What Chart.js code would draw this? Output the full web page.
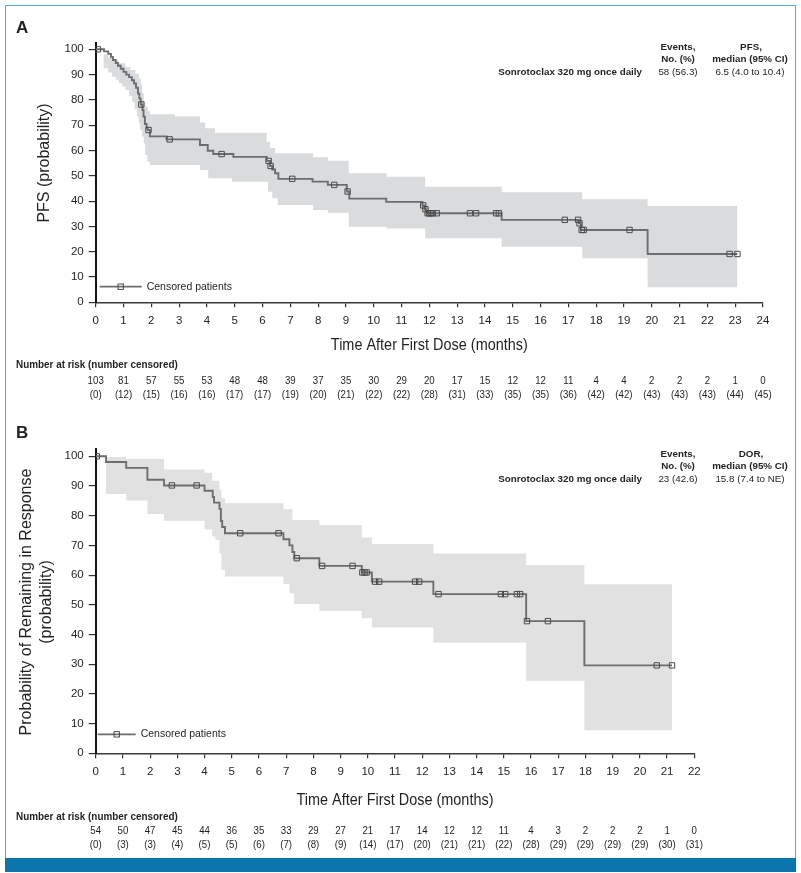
<!DOCTYPE html>
<html>
<head>
<meta charset="utf-8">
<title>Sonrotoclax PFS and DOR</title>
<script src="https://cdn.jsdelivr.net/npm/chart.js@4.4.1/dist/chart.umd.min.js"></script>
<style>
  html, body { margin: 0; padding: 0; background: #fff; }
  body { width: 801px; height: 873px; position: relative; overflow: hidden; }
  #frame { position: absolute; left: 5px; top: 5px; width: 791px; height: 867px; box-sizing: border-box; border: 1px solid #4fa9de; }
  #band { position: absolute; left: 5px; top: 858px; width: 791px; height: 14px; background: #0a76ad; }
  canvas { position: absolute; left: 0; }
  #chartA { top: 0; }
  #chartB { top: 410px; }
</style>
</head>
<body>
<div id="frame"></div>
<div id="band"></div>
<canvas id="chartA" width="801" height="410"></canvas>
<canvas id="chartB" width="801" height="450"></canvas>
<script>
// Fonts and colours (no narrow face installed, so narrow text is squeezed by hand)
const SANS = "'Liberation Sans', Arial, Helvetica, sans-serif";
const INK = '#231f20';
const CURVE = '#6b6e70';
const MARK = '#4a4a4a';

const yTicks = [0, 10, 20, 30, 40, 50, 60, 70, 80, 90, 100];

// A: PFS
const monthsA = [0, 1, 2, 3, 4, 5, 6, 7, 8, 9, 10, 11, 12, 13, 14, 15, 16, 17, 18, 19, 20, 21, 22, 23, 24];
const pfsTimes = [0, 0.3, 0.45, 0.55, 0.62, 0.72, 0.8, 0.9, 1.0, 1.1, 1.2, 1.3, 1.38, 1.45, 1.52, 1.57, 1.62, 1.68, 1.72, 1.77, 1.83, 1.87, 1.95, 2.55, 3.75, 4.03, 4.23, 4.95, 6.15, 6.27, 6.35, 6.45, 6.57, 7.8, 8.35, 9.03, 9.12, 10.45, 11.75, 11.83, 11.9, 14.6, 17.38, 17.45, 19.85, 23.08];
const pfsValues = [100, 99.2, 98.2, 97, 95.8, 94.6, 93.5, 92.3, 91.1, 90, 89, 87.8, 86.5, 84.8, 82.5, 80.5, 78.2, 76, 73.4, 70.5, 69, 68.1, 65.6, 64.4, 62.2, 59.9, 58.6, 57.5, 55.9, 53.9, 52.5, 51, 48.8, 47.7, 46.4, 43.8, 41, 39.7, 38.3, 36.8, 35.2, 32.6, 31.2, 28.6, 19.1, 19.1];
const pfsUpperTimes = [0.28, 0.45, 0.6, 0.8, 1.07, 1.25, 1.43, 1.55, 1.62, 1.67, 1.73, 1.78, 1.88, 1.96, 2.85, 3.75, 3.93, 4.29, 6.15, 6.27, 6.45, 7.82, 8.35, 9.1, 10.46, 11.85, 14.6, 17.5, 19.85, 23.08];
const pfsUpperValues = [98, 96.8, 95.8, 94.5, 93.1, 91.8, 90.3, 88.5, 86, 82.6, 79.5, 77.3, 75.5, 74.3, 73.4, 71.1, 68.8, 67, 63.5, 61, 58.9, 57.3, 56, 51, 49.6, 45.7, 43.5, 40.7, 38.1, 38.1];
const pfsLowerTimes = [0.28, 0.45, 0.59, 0.72, 0.83, 0.95, 1.07, 1.2, 1.31, 1.4, 1.49, 1.55, 1.6, 1.67, 1.73, 1.78, 1.86, 1.95, 3.75, 4.05, 4.9, 6.2, 6.35, 6.55, 7.82, 8.35, 9.1, 10.46, 11.85, 14.6, 17.5, 19.85, 23.08];
const pfsLowerValues = [92.5, 90.8, 89.2, 88, 86.6, 85.3, 83.9, 81.6, 79.3, 76.5, 73.4, 70.8, 68.1, 65.5, 62.8, 58.2, 55.5, 54.3, 52.3, 49, 47.7, 43.7, 41.1, 38.5, 36.5, 35.4, 29.9, 29.2, 25.3, 22, 17.4, 5.9, 5.9];
const pfsCensorTimes = [0.08, 1.64, 1.9, 2.66, 4.53, 6.22, 6.29, 7.07, 8.58, 9.06, 11.78, 11.86, 11.94, 12.0, 12.06, 12.12, 12.27, 13.46, 13.68, 14.4, 14.5, 16.87, 17.35, 17.4, 17.48, 17.55, 19.2, 22.8, 23.08];
const pfsCensorValues = [100, 78.2, 68.1, 64.4, 58.6, 55.9, 53.9, 48.8, 46.4, 43.8, 38.3, 36.8, 35.2, 35.2, 35.2, 35.2, 35.2, 35.2, 35.2, 35.2, 35.2, 32.6, 32.6, 31.2, 28.6, 28.6, 28.6, 19.1, 19.1];
const pfsRisk = [103, 81, 57, 55, 53, 48, 48, 39, 37, 35, 30, 29, 20, 17, 15, 12, 12, 11, 4, 4, 2, 2, 2, 1, 0];
const pfsCensored = [0, 12, 15, 16, 16, 17, 17, 19, 20, 21, 22, 22, 28, 31, 33, 35, 35, 36, 42, 42, 43, 43, 43, 44, 45];

// B: DOR
const monthsB = [0, 1, 2, 3, 4, 5, 6, 7, 8, 9, 10, 11, 12, 13, 14, 15, 16, 17, 18, 19, 20, 21, 22];
const dorTimes = [0, 0.38, 1.12, 1.9, 2.51, 4.0, 4.3, 4.35, 4.55, 4.6, 4.65, 4.75, 6.9, 7.12, 7.23, 7.3, 8.22, 9.78, 10.15, 12.41, 15.82, 17.96, 21.18];
const dorValues = [100, 98.1, 96.1, 92.1, 90.2, 88.4, 86.3, 84.4, 82.3, 78.2, 76.2, 74.1, 72.1, 70, 67.8, 65.7, 63.1, 60.9, 57.8, 53.6, 44.5, 29.6, 29.6];
const dorUpperTimes = [0.38, 1.12, 2.51, 4.0, 4.28, 4.55, 4.62, 4.75, 6.9, 7.23, 8.22, 9.78, 10.15, 12.41, 15.82, 17.96, 21.18];
const dorUpperValues = [99.8, 99.1, 95.6, 94.5, 91.8, 88.7, 85.9, 84.2, 82.2, 78.6, 76.9, 72.7, 70.5, 67.3, 63.4, 56.9, 56.9];
const dorLowerTimes = [0.38, 1.12, 1.9, 2.51, 4.0, 4.28, 4.4, 4.55, 4.62, 4.75, 6.9, 7.12, 7.29, 8.22, 9.78, 10.15, 12.41, 15.82, 17.96, 21.18];
const dorLowerValues = [87.3, 85.1, 80.6, 78.3, 75.4, 73, 71.8, 67.3, 61.7, 59.5, 57, 53.9, 50.3, 47.9, 45.5, 42.4, 37.2, 24.4, 7.8, 7.8];
const dorCensorTimes = [0.04, 2.8, 3.71, 5.31, 6.72, 7.39, 8.32, 9.44, 9.8, 9.88, 9.96, 10.27, 10.42, 11.74, 11.89, 12.6, 14.89, 15.05, 15.48, 15.6, 15.85, 16.62, 20.62, 21.18];
const dorCensorValues = [100, 90.2, 90.2, 74.1, 74.1, 65.7, 63.1, 63.1, 60.9, 60.9, 60.9, 57.8, 57.8, 57.8, 57.8, 53.6, 53.6, 53.6, 53.6, 53.6, 44.5, 44.5, 29.6, 29.6];
const dorRisk = [54, 50, 47, 45, 44, 36, 35, 33, 29, 27, 21, 17, 14, 12, 12, 11, 4, 3, 2, 2, 2, 1, 0];
const dorCensored = [0, 3, 3, 4, 5, 5, 6, 7, 8, 9, 14, 17, 20, 21, 21, 22, 28, 29, 29, 29, 29, 30, 31];

function pts(xs, ys) {
  return xs.map((x, i) => ({ x: x, y: ys[i] }));
}

function drawText(ctx, s, x, y, font, align, squeeze) {
  ctx.save();
  ctx.translate(x, y);
  if (squeeze) ctx.scale(squeeze, 1);
  ctx.font = font;
  ctx.textAlign = align || 'left';
  ctx.textBaseline = 'middle';
  ctx.fillStyle = INK;
  ctx.fillText(s, 0, 0);
  ctx.restore();
}

// Everything around the plot: letter, titles, header block, legend, number at risk
function panelExtras(p) {
  return {
    id: 'panelExtras',
    afterDraw(chart) {
      const ctx = chart.ctx;
      const xs = chart.scales.x;
      const area = chart.chartArea;
      ctx.save();

      drawText(ctx, p.letter, 16, p.letterY, 'bold 17px ' + SANS);

      p.yTitle.forEach((line, i) => {
        ctx.save();
        ctx.translate(p.yTitleX[i], p.yTitleY);
        ctx.rotate(-Math.PI / 2);
        drawText(ctx, line, 0, 0, '16px ' + SANS, 'center');
        ctx.restore();
      });

      // header block
      const h = p.header;
      const bold = 'bold 9.8px ' + SANS;
      const reg = '9.8px ' + SANS;
      drawText(ctx, 'Events,', 678, h.y, bold, 'center');
      drawText(ctx, 'No. (%)', 678, h.y + 12.5, bold, 'center');
      drawText(ctx, h.events, 678, h.y + 25, reg, 'center');
      drawText(ctx, h.metric, 751, h.y, bold, 'center');
      drawText(ctx, 'median (95% CI)', 750, h.y + 12.5, bold, 'center');
      drawText(ctx, h.median, 750, h.y + 25, reg, 'center');
      drawText(ctx, 'Sonrotoclax 320 mg once daily', 642, h.y + 25, bold, 'right');

      // legend
      const lg = p.legend;
      const lx = area.left;
      ctx.strokeStyle = CURVE;
      ctx.lineWidth = 1.8;
      ctx.beginPath();
      ctx.moveTo(lx + lg.x0, lg.y);
      ctx.lineTo(lx + lg.x1, lg.y);
      ctx.stroke();
      const mx = lx + (lg.x0 + lg.x1) / 2;
      ctx.strokeStyle = MARK;
      ctx.lineWidth = 1;
      ctx.strokeRect(mx - 2.7, lg.y - 2.7, 5.4, 5.4);
      drawText(ctx, 'Censored patients', lx + lg.text, lg.y, '10.5px ' + SANS);

      // x title
      drawText(ctx, 'Time After First Dose (months)', (area.left + area.right) / 2, p.xTitleY, '17px ' + SANS, 'center', 0.85);

      // number at risk
      drawText(ctx, 'Number at risk (number censored)', 16, p.riskTitleY, 'bold 11px ' + SANS, 'left', 0.9);
      p.risk.forEach((n, i) => {
        const x = xs.getPixelForValue(p.months[i]);
        drawText(ctx, String(n), x, p.riskY, '11px ' + SANS, 'center', 0.88);
        drawText(ctx, '(' + p.censored[i] + ')', x, p.riskY + 13.5, '11px ' + SANS, 'center', 0.88);
      });

      ctx.restore();
    }
  };
}

function kmChart(id, p) {
  const datasets = [
    { label: 'censored', data: pts(p.censorTimes, p.censorValues), showLine: false, pointStyle: 'rect',
      pointRadius: 3.8, pointBorderWidth: 1, pointBorderColor: MARK, pointBackgroundColor: 'rgba(0,0,0,0)', order: 0 },
    { label: 'curve', data: pts(p.times, p.values), stepped: true, borderColor: CURVE, borderWidth: 1.9,
      pointRadius: 0, fill: false, order: 1 },
    { label: 'upper', data: pts(p.upperTimes, p.upperValues), stepped: true, borderColor: 'rgba(0,0,0,0)', borderWidth: 1,
      pointRadius: 0, fill: '+1', backgroundColor: p.bandColor, order: 2 },
    { label: 'lower', data: pts(p.lowerTimes, p.lowerValues), stepped: true, borderColor: 'rgba(0,0,0,0)', borderWidth: 1,
      pointRadius: 0, fill: false, order: 3 }
  ];

  return new Chart(document.getElementById(id), {
    type: 'line',
    data: { datasets: datasets },
    options: {
      responsive: false,
      animation: false,
      events: [],
      layout: { padding: { top: p.padTop, right: p.padRight, bottom: p.padBottom, left: 0 } },
      plugins: { legend: { display: false }, tooltip: { enabled: false } },
      scales: {
        x: {
          type: 'linear', min: 0, max: p.months[p.months.length - 1],
          afterFit: s => { s.height = 22; },
          afterBuildTicks: s => { s.ticks = p.months.map(v => ({ value: v })); },
          ticks: { autoSkip: false, maxRotation: 0, padding: 7, color: INK, font: { family: SANS, size: 11.5 } },
          grid: { drawOnChartArea: false, drawTicks: true, tickLength: 5, color: '#333', lineWidth: 1.2 },
          border: { display: true, color: '#3a3a3a', width: 1.5 }
        },
        y: {
          type: 'linear', min: 0, max: 102.5,
          afterFit: s => { s.width = 95.7; },
          afterBuildTicks: s => { s.ticks = yTicks.map(v => ({ value: v })); },
          ticks: { padding: 5, color: INK, font: { family: SANS, size: 11.5 } },
          grid: { drawOnChartArea: false, drawTicks: true, tickLength: 7, color: '#333', lineWidth: 1.2 },
          border: { display: true, color: '#111', width: 2 }
        }
      }
    },
    plugins: [panelExtras(p)]
  });
}

document.addEventListener('DOMContentLoaded', () => {
  kmChart('chartA', {
    letter: 'A', letterY: 28.5,
    yTitle: ['PFS (probability)'], yTitleX: [45], yTitleY: 163,
    header: { metric: 'PFS,', events: '58 (56.3)', median: '6.5 (4.0 to 10.4)', y: 47 },
    legend: { x0: 4, x1: 46, text: 51, y: 286.7 },
    xTitleY: 345, riskTitleY: 364.5, riskY: 381,
    padTop: 43, padRight: 38, padBottom: 85.7,
    months: monthsA, risk: pfsRisk, censored: pfsCensored,
    times: pfsTimes, values: pfsValues,
    upperTimes: pfsUpperTimes, upperValues: pfsUpperValues,
    lowerTimes: pfsLowerTimes, lowerValues: pfsLowerValues,
    censorTimes: pfsCensorTimes, censorValues: pfsCensorValues,
    bandColor: '#d9dbdc'
  });

  kmChart('chartB', {
    letter: 'B', letterY: 23,
    yTitle: ['Probability of Remaining in Response', '(probability)'], yTitleX: [26.7, 46.7], yTitleY: 192,
    header: { metric: 'DOR,', events: '23 (42.6)', median: '15.8 (7.4 to NE)', y: 44 },
    legend: { x0: 2, x1: 40, text: 45, y: 324.3 },
    xTitleY: 390, riskTitleY: 406.5, riskY: 421,
    padTop: 38.9, padRight: 106.7, padBottom: 84.7,
    months: monthsB, risk: dorRisk, censored: dorCensored,
    times: dorTimes, values: dorValues,
    upperTimes: dorUpperTimes, upperValues: dorUpperValues,
    lowerTimes: dorLowerTimes, lowerValues: dorLowerValues,
    censorTimes: dorCensorTimes, censorValues: dorCensorValues,
    bandColor: '#e1e1e1'
  });
});
</script>
</body>
</html>
